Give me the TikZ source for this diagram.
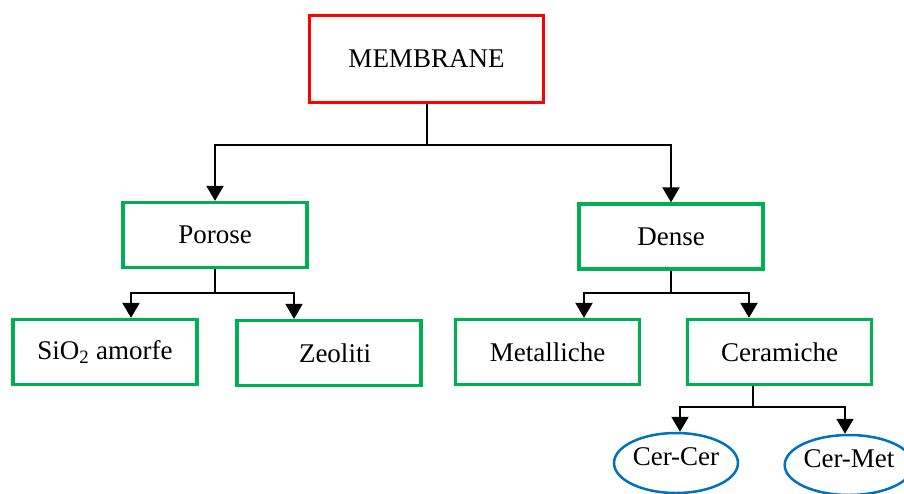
\documentclass[tikz,border=0pt]{standalone}
\usepackage{fontspec}
\setmainfont{Liberation Serif}
\usetikzlibrary{arrows.meta,shapes.geometric}
\definecolor{mred}{RGB}{255,0,0}
\definecolor{mgreen}{RGB}{0,176,80}
\definecolor{mblue}{RGB}{0,112,192}
\begin{document}
\begin{tikzpicture}[x=1pt,y=-1pt,
  box/.style={draw=mgreen,line width=3.3pt,minimum width=184pt,minimum height=65pt,inner sep=0pt,font=\fontsize{27}{32}\selectfont},
  topbox/.style={box,draw=mred,minimum width=234pt,minimum height=87pt},
  oval/.style={ellipse,draw=mblue,line width=2.5pt,minimum width=124pt,minimum height=60pt,inner sep=0pt,text depth=12pt,font=\fontsize{27}{32}\selectfont},
  conn/.style={draw=black,line width=2pt},
  arr/.style={conn,-{Triangle[width=17pt,length=15pt]}}]
\useasboundingbox (0,0) rectangle (904,493);
\clip (0,0) rectangle (904,493);
\node[topbox] (mem) at (426.5,59) {MEMBRANE};
\node[box] (por) at (215,235) {Porose};
\node[box] (den) at (671,236.5) {Dense};
\node[box] (sio) at (105,352) {SiO\textsubscript{2} amorfe};
\node[box] (zeo) at (329,353) {\hspace*{12pt}Zeoliti};
\node[box] (met) at (547.5,352) {Metalliche};
\node[box] (cer) at (779.5,352) {Ceramiche};
\node[oval] (cc) at (676,463) {Cer-Cer};
\node[oval] (cm) at (849,465) {Cer-Met};
% MEMBRANE branch
\coordinate (j1) at (mem.south |- 0,145);
\draw[conn] (mem.south) -- (j1);
\draw[arr] (j1) -| (por.north);
\draw[arr] (j1) -| (den.north);
% Porose branch
\coordinate (j2) at (por.south |- 0,293);
\draw[conn] (por.south) -- (j2);
\draw[arr] (j2) -| ([xshift=26pt]sio.north);
\draw[arr] (j2) -| ([xshift=-35pt]zeo.north);
% Dense branch
\coordinate (j3) at (den.south |- 0,293);
\draw[conn] (den.south) -- (j3);
\draw[arr] (j3) -| ([xshift=36.5pt]met.north);
\draw[arr] (j3) -| ([xshift=-30.5pt]cer.north);
% Ceramiche branch
\coordinate (c4) at ([xshift=-27pt]cer.south);
\coordinate (j4) at (c4 |- 0,407);
\draw[conn] (c4) -- (j4);
\draw[arr] (j4) -| ([xshift=4pt]cc.north);
\draw[arr] (j4) -| ([xshift=-4pt]cm.north);
\end{tikzpicture}
\end{document}
